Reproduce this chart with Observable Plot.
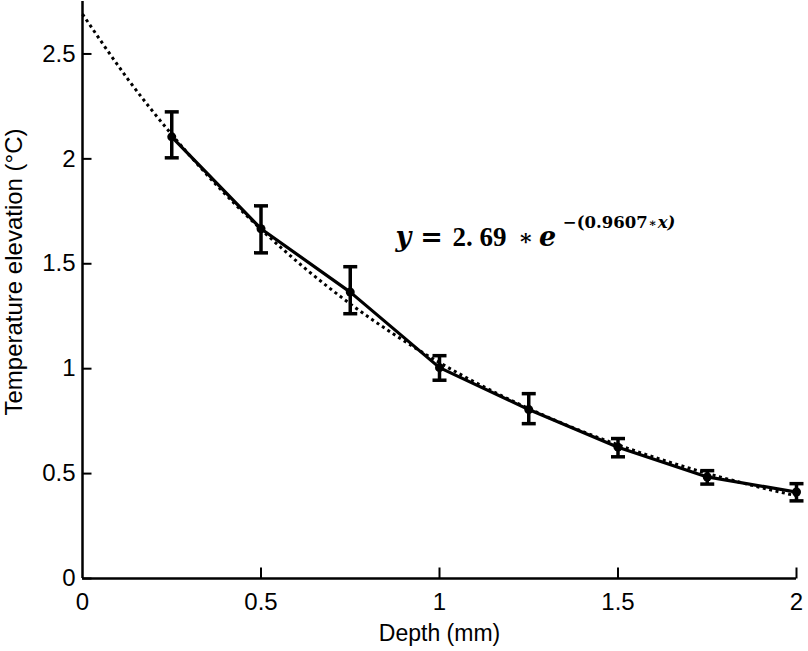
<!DOCTYPE html>
<html>
<head>
<meta charset="utf-8">
<script src="https://cdn.jsdelivr.net/npm/d3@7"></script>
<script src="https://cdn.jsdelivr.net/npm/@observablehq/plot@0.6"></script>
<style>
  body { margin: 0; background: #fff; }
  #chart svg { display: block; }
</style>
</head>
<body>
<div id="chart"></div>
<script>
// Measured data (depth in mm, temperature elevation in °C)
const depth = [0.25, 0.5, 0.75, 1.0, 1.25, 1.5, 1.75, 2.0];
const meanTemp = [2.105, 1.667, 1.365, 1.005, 0.805, 0.626, 0.484, 0.412];
const errLow  = [2.005, 1.552, 1.262, 0.945, 0.738, 0.580, 0.450, 0.370];
const errHigh = [2.224, 1.776, 1.486, 1.062, 0.881, 0.667, 0.514, 0.452];

// Fitted curve
const fitX = [0, 0.125, 0.25, 0.375, 0.5, 0.625, 0.75, 0.875, 1.0, 1.125, 1.25, 1.375, 1.5, 1.625, 1.75, 1.875, 2.0];
const fitY = [2.69, 2.385, 2.116, 1.876, 1.664, 1.476, 1.309, 1.161, 1.029, 0.913, 0.810, 0.718, 0.637, 0.565, 0.501, 0.444, 0.394];

const xTicks = [0, 0.5, 1, 1.5, 2];
const yTicks = [0, 0.5, 1, 1.5, 2, 2.5];
const xLabel = "Depth (mm)";
const yLabel = "Temperature elevation (°C)";

const measured = depth.map((d, i) => ({x: d, y: meanTemp[i], lo: errLow[i], hi: errHigh[i]}));
const fit = fitX.map((d, i) => ({x: d, y: fitY[i]}));

const font = "'Liberation Sans', Arial, sans-serif";
const serifA = "'Liberation Serif', serif";
const serifB = "'DejaVu Serif', serif";
const fmt = d => String(d);

// custom symbols
const capSymbol = {draw(ctx) { ctx.moveTo(-7, 0); ctx.lineTo(7, 0); }};
const yTickSymbol = {draw(ctx) { ctx.moveTo(0, 0); ctx.lineTo(9, 0); }};
const xTickSymbol = {draw(ctx) { ctx.moveTo(0, 0); ctx.lineTo(0, -11); }};

const eqY = 1.624, supY = 1.695;

const chart = Plot.plot({
  width: 808,
  height: 651,
  marginLeft: 82,
  marginRight: 12,
  marginTop: 1,
  marginBottom: 73,
  style: {fontFamily: font, fontSize: "24px", color: "#000", background: "#fff"},
  x: {domain: [0, 2]},
  y: {domain: [0, 2.75]},
  marks: [
    Plot.axisX({ticks: xTicks, tickFormat: fmt, tickSize: 0, tickPadding: 14, fontSize: 24, fill: "#000", label: null}),
    Plot.axisY({ticks: yTicks, tickFormat: fmt, tickSize: 0, tickPadding: 7, fontSize: 24, fill: "#000", label: null}),
    Plot.text([xLabel], {frameAnchor: "bottom", textAnchor: "middle", lineAnchor: "middle", dy: 55, text: d => d, fontSize: 23, fill: "#000"}),
    Plot.text([yLabel], {frameAnchor: "left", textAnchor: "middle", lineAnchor: "middle", rotate: -90, dx: -68, dy: -18, text: d => d, fontSize: 24, fill: "#000"}),
    // inward ticks
    Plot.dot(yTicks, {x: () => 0, y: d => d, symbol: yTickSymbol, r: 5, stroke: "#000", strokeWidth: 2, fill: "none"}),
    Plot.dot(xTicks.slice(1), {x: d => d, y: () => 0, symbol: xTickSymbol, r: 5, stroke: "#000", strokeWidth: 2, fill: "none"}),
    // axis lines
    Plot.ruleX([0], {stroke: "#000", strokeWidth: 2.5}),
    Plot.ruleY([0], {stroke: "#000", strokeWidth: 2.5}),
    // fitted dotted curve
    Plot.line(fit, {x: "x", y: "y", curve: "natural", stroke: "#000", strokeWidth: 3, strokeLinecap: "butt", strokeDasharray: "3,3.5"}),
    // measured line
    Plot.line(measured, {x: "x", y: "y", stroke: "#000", strokeWidth: 3.2}),
    // error bars
    Plot.ruleX(measured, {x: "x", y1: "lo", y2: "hi", stroke: "#000", strokeWidth: 3.5}),
    Plot.dot(measured, {x: "x", y: "lo", symbol: capSymbol, r: 5, stroke: "#000", strokeWidth: 3.5, fill: "none"}),
    Plot.dot(measured, {x: "x", y: "hi", symbol: capSymbol, r: 5, stroke: "#000", strokeWidth: 3.5, fill: "none"}),
    Plot.dot(measured, {x: "x", y: "y", r: 4.5, fill: "#000", stroke: "none"}),
    // equation annotation: y = 2.69 * e^-(0.9607*x)
    Plot.text(["y"], {x: 0.877, y: eqY, text: d => d, textAnchor: "start", fontSize: 27, fontWeight: "bold", fontStyle: "italic", fontFamily: serifB, fill: "#000"}),
    Plot.text(["="], {x: 0.978, y: eqY, text: d => d, fontSize: 27, fontWeight: "bold", fontFamily: serifB, fill: "#000"}),
    Plot.text(["2. 69"], {x: 1.112, y: eqY, text: d => d, fontSize: 27, fontWeight: "bold", fontFamily: serifA, fill: "#000"}),
    Plot.text(["∗"], {x: 1.241, y: eqY, text: d => d, fontSize: 22, fontWeight: "bold", fontFamily: serifB, fill: "#000"}),
    Plot.text(["e"], {x: 1.303, y: eqY, text: d => d, fontSize: 27, fontWeight: "bold", fontStyle: "italic", fontFamily: serifB, fill: "#000"}),
    Plot.text(["−(0.9607"], {x: 1.583, y: supY, text: d => d, textAnchor: "end", fontSize: 16.5, fontWeight: "bold", fontFamily: serifB, fill: "#000"}),
    Plot.text(["∗"], {x: 1.596, y: supY, text: d => d, fontSize: 12, fontWeight: "bold", fontFamily: serifB, fill: "#000"}),
    Plot.text(["x)"], {x: 1.611, y: supY, text: d => d, textAnchor: "start", fontSize: 16.5, fontWeight: "bold", fontStyle: "italic", fontFamily: serifB, fill: "#000"})
  ]
});
document.getElementById("chart").appendChild(chart);
</script>
</body>
</html>
